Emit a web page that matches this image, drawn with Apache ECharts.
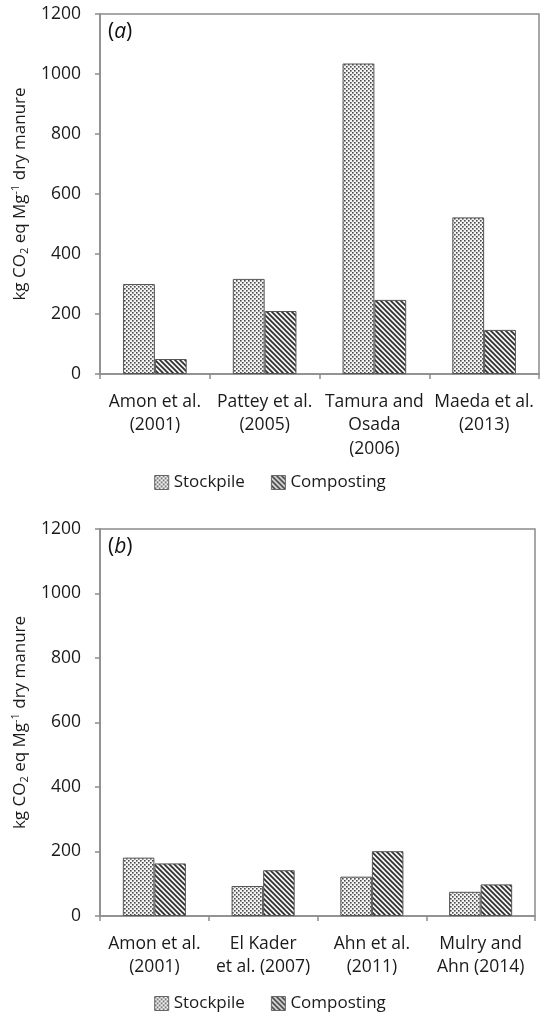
<!DOCTYPE html>
<html>
<head>
<meta charset="utf-8">
<script src="https://cdn.jsdelivr.net/npm/echarts@6/dist/echarts.min.js"></script>
<style>
  html, body { margin: 0; padding: 0; background: #fff; }
  #chart { width: 540px; height: 1013px; }
</style>
</head>
<body>
<div id="chart"></div>
<script>
// Study labels for each panel
const studiesA = ['Amon et al.\n(2001)', 'Pattey et al.\n(2005)', 'Tamura and\nOsada\n(2006)', 'Maeda et al.\n(2013)'];
const studiesB = ['Amon et al.\n(2001)', 'El Kader\net al. (2007)', 'Ahn et al.\n(2011)', 'Mulry and\nAhn (2014)'];

// kg CO2 eq per Mg dry manure
const stockpileA = [300, 317, 1035, 522];
const compostingA = [50, 210, 247, 147];
const stockpileB = [181, 93, 122, 75];
const compostingB = [163, 142, 201, 98];

const yTicks = [0, 200, 400, 600, 800, 1000, 1200];
const seriesNames = ['Stockpile', 'Composting'];
const panelTags = ['a', 'b'];

const FONT = '"Open Sans", "Liberation Sans", sans-serif';

// Fill patterns: dotted for stockpile, diagonal hatching for composting
function dotPattern() {
  const c = document.createElement('canvas');
  c.width = 4; c.height = 4;
  const g = c.getContext('2d');
  g.fillStyle = '#f4f4f4';
  g.fillRect(0, 0, 4, 4);
  g.fillStyle = '#4a4a4a';
  g.fillRect(0, 0, 1.6, 1.6);
  g.fillRect(2, 2, 1.6, 1.6);
  return c;
}
function hatchPattern() {
  const s = 5;
  const c = document.createElement('canvas');
  c.width = s; c.height = s;
  const g = c.getContext('2d');
  g.fillStyle = '#f4f4f4';
  g.fillRect(0, 0, s, s);
  g.strokeStyle = '#2f2f2f';
  g.lineWidth = 1.7;
  g.beginPath();
  g.moveTo(-1, -1); g.lineTo(s + 1, s + 1);
  g.moveTo(-1, s - 1); g.lineTo(1, s + 1);
  g.moveTo(s - 1, -1); g.lineTo(s + 1, 1);
  g.stroke();
  return c;
}
const fills = [
  { image: dotPattern(), repeat: 'repeat' },
  { image: hatchPattern(), repeat: 'repeat' }
];

const AXIS_COLOR = '#8c8c8c';
const grids = [
  { left: 100, top: 14, width: 439, height: 360 },
  { left: 100, top: 529, width: 435, height: 387 }
];

const yName = '{t|kg CO}{sub|2}{t| eq Mg}{sup|-1}{t| dry manure}';

function xAxisFor(i, cats) {
  return {
    type: 'category', gridIndex: i, data: cats,
    axisLine: { lineStyle: { color: AXIS_COLOR, width: 1.5 } },
    axisTick: { show: true, length: 5, lineStyle: { color: AXIS_COLOR, width: 1.5 } },
    axisLabel: { color: '#1a1a1a', fontFamily: FONT, fontSize: 17.5, lineHeight: 23.5, margin: 16, interval: 0 }
  };
}
function yAxisFor(i) {
  return {
    type: 'value', gridIndex: i, min: yTicks[0], max: yTicks[yTicks.length - 1], interval: 200,
    axisLine: { show: true, lineStyle: { color: AXIS_COLOR, width: 1.5 } },
    axisTick: { show: true, length: 5, lineStyle: { color: AXIS_COLOR, width: 1.5 } },
    splitLine: { show: false },
    axisLabel: { color: '#1a1a1a', fontFamily: FONT, fontSize: 17.5, margin: 19, formatter: v => String(v) },
    name: yName, nameLocation: 'middle', nameRotate: 90, nameGap: 66,
    nameTextStyle: {
      rich: {
        t: { fontFamily: FONT, fontSize: 17, color: '#1a1a1a', lineHeight: 20 },
        sub: { fontFamily: FONT, fontSize: 11, color: '#1a1a1a', verticalAlign: 'bottom', lineHeight: 20, padding: [6, 0, 0, 0] },
        sup: { fontFamily: FONT, fontSize: 11, color: '#1a1a1a', verticalAlign: 'top', lineHeight: 20, padding: [0, 0, 6, 0] }
      }
    }
  };
}
function bars(i, name, data, k) {
  return {
    type: 'bar', name: name, xAxisIndex: i, yAxisIndex: i, data: data,
    barGap: '0%', barCategoryGap: '42%',
    itemStyle: { color: fills[k], borderColor: '#555', borderWidth: 1 }
  };
}
function legendAt(top) {
  return {
    top: top, left: 'center', icon: 'rect', itemWidth: 14, itemHeight: 14, itemGap: 26,
    data: seriesNames,
    textStyle: { fontFamily: FONT, fontSize: 17, color: '#1a1a1a' },
    itemStyle: { borderColor: '#666', borderWidth: 1 },
    selectedMode: false
  };
}

const chart = echarts.init(document.getElementById('chart'), null, { renderer: 'canvas' });
chart.setOption({
  animation: false,
  backgroundColor: '#fff',
  grid: grids.map(g => Object.assign({ show: true, borderColor: AXIS_COLOR, borderWidth: 1.5 }, g)),
  xAxis: [xAxisFor(0, studiesA), xAxisFor(1, studiesB)],
  yAxis: [yAxisFor(0), yAxisFor(1)],
  legend: [legendAt(469), legendAt(990)],
  graphic: panelTags.map((tag, i) => ({
    type: 'text', left: grids[i].left + 8, top: grids[i].top + 8,
    style: {
      text: '{p|(}{i|' + tag + '}{p|)}',
      rich: {
        p: { fontFamily: FONT, fontSize: 21, fill: '#111' },
        i: { fontFamily: FONT, fontSize: 21, fontStyle: 'italic', fill: '#111' }
      }
    }
  })),
  series: [
    bars(0, seriesNames[0], stockpileA, 0),
    bars(0, seriesNames[1], compostingA, 1),
    bars(1, seriesNames[0], stockpileB, 0),
    bars(1, seriesNames[1], compostingB, 1)
  ]
});
</script>
</body>
</html>
